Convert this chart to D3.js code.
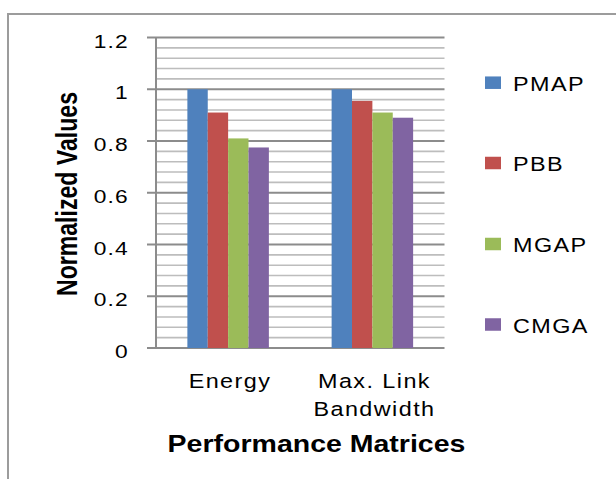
<!DOCTYPE html>
<html>
<head>
<meta charset="utf-8">
<script src="https://cdn.jsdelivr.net/npm/d3@7"></script>
<style>
  html, body { margin: 0; padding: 0; background: #fff; }
  svg { display: block; }
  text { font-family: "Liberation Sans", Arial, sans-serif; fill: #000; }
</style>
</head>
<body>
<svg id="chart" width="616" height="479"></svg>
<script>
// Normalized values per performance metric and algorithm
const categories = ["Energy", "Max. Link Bandwidth"];
const categoryLines = [["Energy"], ["Max. Link", "Bandwidth"]];
const seriesNames = ["PMAP", "PBB", "MGAP", "CMGA"];
const seriesColors = ["#4F81BD", "#C0504D", "#9BBB59", "#8064A2"];
const valuesPMAP = [1.0, 1.0];
const valuesPBB = [0.91, 0.955];
const valuesMGAP = [0.81, 0.91];
const valuesCMGA = [0.775, 0.89];
const seriesValues = [valuesPMAP, valuesPBB, valuesMGAP, valuesCMGA];
const yTicks = [0, 0.2, 0.4, 0.6, 0.8, 1, 1.2];
const yMinorStep = 0.04;
const xTitle = "Performance Matrices";
const yTitle = "Normalized Values";

const svg = d3.select("#chart");

// outer chart frame
svg.append("rect")
  .attr("x", 8).attr("y", 14)
  .attr("width", 640).attr("height", 500)
  .attr("fill", "none").attr("stroke", "#9c9c9c").attr("stroke-width", 2);

const plotLeft = 156, plotRight = 444.5, plotTop = 37.5, plotBottom = 348;

const y = d3.scaleLinear().domain([0, 1.2]).range([plotBottom, plotTop]);
const x0 = d3.scaleBand().domain(categories)
  .range([plotLeft, plotRight]).paddingInner(0.435).paddingOuter(0.2175);
const x1 = d3.scaleBand().domain(seriesNames).range([0, x0.bandwidth()]);

// minor gridlines
const minor = d3.range(0, 1.2 + 1e-9, yMinorStep)
  .filter(v => Math.abs(v / 0.2 - Math.round(v / 0.2)) > 1e-6);
svg.append("g").selectAll("line").data(minor).join("line")
  .attr("x1", plotLeft).attr("x2", plotRight)
  .attr("y1", d => y(d)).attr("y2", d => y(d))
  .attr("stroke", "#bdbdbd").attr("stroke-width", 1.6);

// major gridlines, extended to the left as tick marks
svg.append("g").selectAll("line").data(yTicks).join("line")
  .attr("x1", plotLeft - 9).attr("x2", plotRight)
  .attr("y1", d => y(d)).attr("y2", d => y(d))
  .attr("stroke", "#8c8c8c").attr("stroke-width", 2);

// bars
const groups = svg.append("g").selectAll("g").data(categories).join("g")
  .attr("transform", c => `translate(${x0(c)},0)`);
groups.selectAll("rect")
  .data((c, ci) => seriesNames.map((s, si) => ({ s, si, v: seriesValues[si][ci] })))
  .join("rect")
  .attr("x", d => x1(d.s))
  .attr("width", x1.bandwidth())
  .attr("y", d => y(d.v))
  .attr("height", d => y(0) - y(d.v))
  .attr("fill", d => seriesColors[d.si]);

// y axis with labels
const yAxis = svg.append("g")
  .attr("transform", `translate(${plotLeft},0)`)
  .call(d3.axisLeft(y).tickValues(yTicks).tickSize(9).tickFormat(d3.format("~g")));
yAxis.select(".domain").attr("stroke", "#8c8c8c").attr("stroke-width", 2)
  .attr("d", `M0,${plotTop}V${plotBottom}`);
yAxis.selectAll(".tick line").remove();
yAxis.selectAll(".tick text")
  .attr("x", null).attr("dy", null)
  .attr("transform", "translate(-27,9.5) scale(1.2,1)")
  .attr("font-size", 19)
  .attr("letter-spacing", 1)
  .attr("font-family", "Liberation Sans, Arial, sans-serif")
  .attr("fill", "#000");

// category labels
const labelCenters = [230, 374.5];
const xl = svg.append("g");
categories.forEach((c, i) => {
  categoryLines[i].forEach((line, li) => {
    xl.append("text")
      .attr("text-anchor", "middle")
      .attr("font-size", 19.5)
      .attr("letter-spacing", 1.2)
      .attr("transform", `translate(${labelCenters[i]},${388 + li * 27.5}) scale(1.2,1)`)
      .text(line);
  });
});

// axis titles
svg.append("text")
  .attr("text-anchor", "middle")
  .attr("font-size", 23).attr("font-weight", "bold")
  .attr("transform", "translate(316.5,452) scale(1.24,1)")
  .text(xTitle);

svg.append("text")
  .attr("text-anchor", "middle")
  .attr("font-size", 22).attr("font-weight", "bold")
  .attr("transform", "translate(76.5,194) rotate(-90) scale(1.05,1.37)")
  .text(yTitle);

// legend
const legendRows = [82.7, 163, 244, 324.5];
const legend = svg.append("g").selectAll("g").data(seriesNames).join("g")
  .attr("transform", (d, i) => `translate(485,${legendRows[i]})`);
legend.append("rect")
  .attr("x", 0).attr("y", -6.25).attr("width", 16).attr("height", 12.5)
  .attr("fill", (d, i) => seriesColors[i]);
legend.append("text")
  .attr("font-size", 19.5)
  .attr("letter-spacing", 1.2)
  .attr("transform", "translate(28,8) scale(1.2,1)")
  .text(d => d);
</script>
</body>
</html>
